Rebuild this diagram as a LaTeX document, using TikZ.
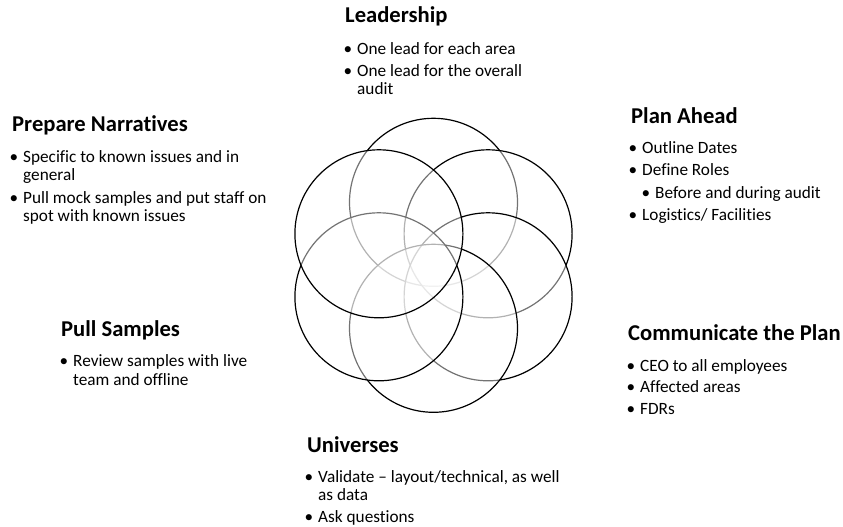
\documentclass[tikz,border=0pt]{standalone}
\usepackage{fontspec}
\setmainfont{Carlito}[Ligatures=NoCommon]
\begin{document}
\begin{tikzpicture}[x=1bp,y=-1bp,
  petal/.style={circle,draw=black,line width=1.2bp,fill=white,fill opacity=0.45,
    inner sep=0pt,minimum size=168bp},
  head/.style={anchor=base west,inner sep=0pt,font=\fontsize{22.7}{26}\selectfont\bfseries},
  body/.style={anchor=base west,inner sep=0pt,font=\fontsize{17.3}{19}\selectfont}]
\newcommand{\bul}{\llap{\textbullet\hspace{5bp}}}
\path[use as bounding box] (0,0) rectangle (843,527);

% six overlapping circles, drawn clockwise from the top
\node[petal] (ptop) at (433.5,202.3) {};
\node[petal] (pur)  at (488.1,233.8) {};
\node[petal] (plr)  at (488.1,296.8) {};
\node[petal] (pbot) at (433.5,328.3) {};
\node[petal] (pll)  at (378.9,296.8) {};
\node[petal] (pul)  at (378.9,233.8) {};

% Leadership
\node[head] (h1) at (345,23) {Leadership};
\node[body] (h1a) at (357,54.5) {\bul One lead for each area};
\node[body] (h1b) at (357,76.5) {\bul One lead for the overall};
\node[body] (h1c) at (357,94.5) {audit};

% Plan Ahead
\node[head] (h2) at (631,124) {Plan Ahead};
\node[body] (h2a) at (642,154) {\bul Outline Dates};
\node[body] (h2b) at (642,176) {\bul Define Roles};
\node[body] (h2c) at (655,198.5) {\bul Before and during audit};
\node[body] (h2d) at (642,221) {\bul Logistics/ Facilities};

% Communicate the Plan
\node[head] (h3) at (628,340.5) {Communicate the Plan};
\node[body] (h3a) at (640,371) {\bul CEO to all employees};
\node[body] (h3b) at (640,392.5) {\bul Affected areas};
\node[body] (h3c) at (640,414.5) {\bul FDRs};

% Universes
\node[head] (h4) at (307,452) {Universes};
\node[body] (h4a) at (318,482) {\bul Validate – layout/technical, as well};
\node[body] (h4b) at (318,500) {as data};
\node[body] (h4c) at (318,522) {\bul Ask questions};

% Pull Samples
\node[head] (h5) at (61,336.5) {Pull Samples};
\node[body] (h5a) at (73,366.7) {\bul Review samples with live};
\node[body] (h5b) at (73,385.5) {team and offline};

% Prepare Narratives
\node[head] (h6) at (12,131.5) {Prepare Narratives};
\node[body] (h6a) at (23,162.5) {\bul Specific to known issues and in};
\node[body] (h6b) at (23,181) {general};
\node[body] (h6c) at (23,204) {\bul Pull mock samples and put staff on};
\node[body] (h6d) at (23,222) {spot with known issues};
\end{tikzpicture}
\end{document}
